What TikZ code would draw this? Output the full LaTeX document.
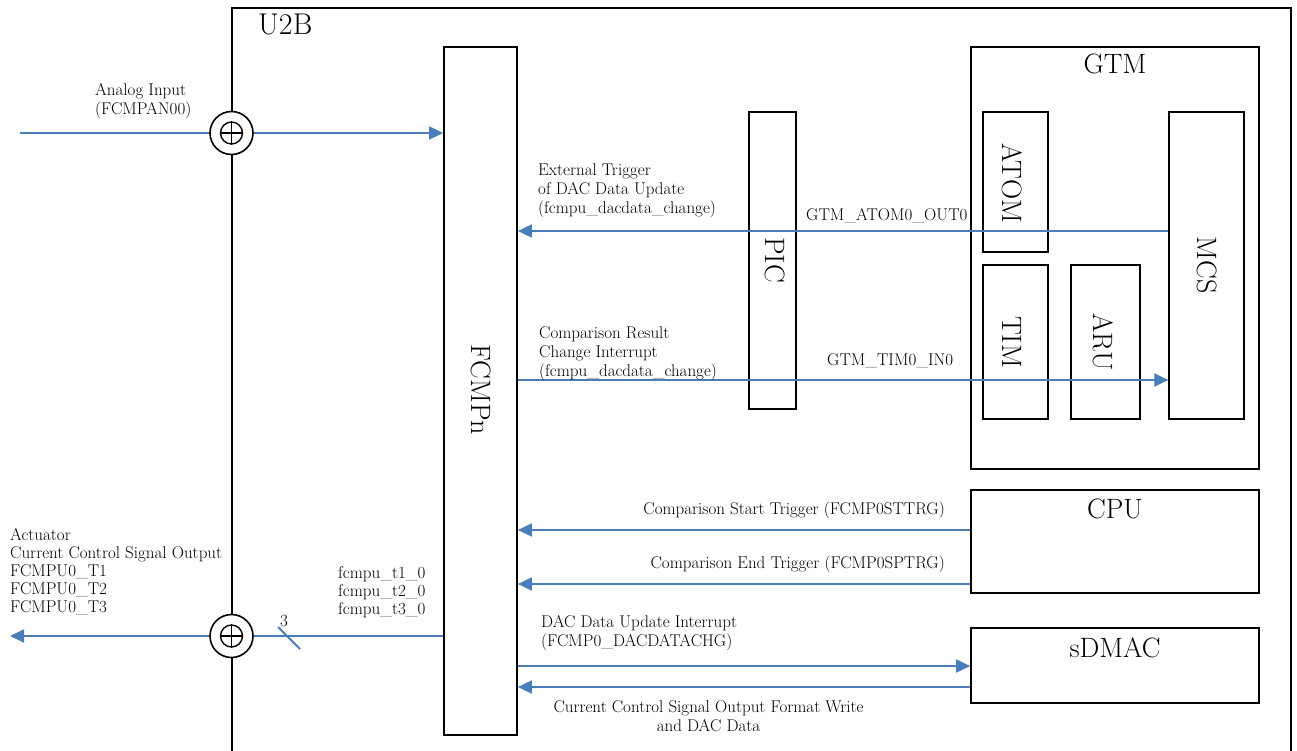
\documentclass[tikz,border=0pt]{standalone}
\usepackage{tikz}
\usetikzlibrary{arrows.meta,positioning}
\definecolor{sigblue}{RGB}{74,126,187}
\tikzset{% 
  blockbox/.style={%
    draw,
    line width=1.7pt,
    inner sep=0pt
  }
}
\tikzset{% 
  subbox/.style={%
    draw,
    line width=1.3pt,
    inner sep=0pt
  }
}
\tikzset{% 
  bigname/.style={%
    inner sep=0pt,
    font=\fontsize{28}{32}\selectfont
  }
}
\tikzset{% 
  siglabel/.style={%
    inner sep=0pt,
    align=left,
    font=\fontsize{17}{19}\selectfont
  }
}
\tikzset{% 
  sigline/.style={%
    draw=sigblue,
    line width=1.8pt
  }
}
\tikzset{% 
  sigarrow/.style={%
    sigline,
    -{Triangle[length=14pt,width=13pt]}
  }
}
\tikzset{% 
  pinring/.style={%
    circle,
    draw,
    fill=white,
    line width=1.6pt,
    minimum size=43pt,
    inner sep=0pt
  }
}
\tikzset{% 
  pinhole/.style={%
    circle,
    draw,
    line width=1.4pt,
    minimum size=22pt,
    inner sep=0pt
  }
}

\begin{document}
\begin{tikzpicture}[x=1pt,y=-1pt]
  \useasboundingbox (0,0) rectangle (1297,751);
  % U2B frame, open at the bottom
  \draw [line width=1.7pt] (232,760) -- (232,8) -- (1291,8) -- (1291,760);
  \node [bigname, anchor=base west, font=\fontsize{30}{34}\selectfont] (u2b) at (258,35) {U2B};
  % blocks
  \node [blockbox, minimum width=73, minimum height=688] (fcmp) at (480.5,391) {};
  \node [bigname, rotate=-90] (fcmpname) at (481,390) {FCMPn};
  \node [blockbox, minimum width=47, minimum height=297] (pic) at (772.5,260.5) {};
  \node [bigname, rotate=-90] (picname) at (775,260) {PIC};
  \node [blockbox, minimum width=288, minimum height=422] (gtm) at (1115,258) {};
  \node [bigname, anchor=base] (gtmname) at (1115,74) {GTM};
  \node [subbox, minimum width=65, minimum height=140] (atom) at (1015.5,182) {};
  \node [bigname, rotate=-90] (atomname) at (1012,183) {ATOM};
  \node [subbox, minimum width=65, minimum height=154] (tim) at (1015.5,342) {};
  \node [bigname, rotate=-90] (timname) at (1012,342) {TIM};
  \node [subbox, minimum width=69, minimum height=154] (aru) at (1105.5,342) {};
  \node [bigname, rotate=-90] (aruname) at (1103,342) {ARU};
  \node [subbox, minimum width=75, minimum height=307] (mcs) at (1206.5,265.5) {};
  \node [bigname, rotate=-90] (mcsname) at (1207,265) {MCS};
  \node [blockbox, minimum width=288, minimum height=103] (cpu) at (1115,541.5) {};
  \node [bigname, anchor=base] (cpuname) at (1115,518) {CPU};
  \node [blockbox, minimum width=288, minimum height=75] (sdmac) at (1115,665.5) {};
  \node [bigname, anchor=base] (sdmacname) at (1115,657) {sDMAC};
  % pins on the U2B edge
  \node [pinring] (pinin) at (231.5,133) {};
  \node [pinhole] (pininh) at (pinin) {};
  \draw [line width=1.2pt] (pininh.north) -- (pininh.south) (pininh.west) -- (pininh.east);
  \node [pinring] (pinout) at (231.5,636) {};
  \node [pinhole] (pinouth) at (pinout) {};
  \draw [line width=1.2pt] (pinouth.north) -- (pinouth.south) (pinouth.west) -- (pinouth.east);
  % signals
  \coordinate (ainstart) at (20,133);
  \coordinate (aoutend) at (10,636);
  \coordinate (busmark) at (289,638);
  \draw [sigline] (ainstart) -- (pinin.west);
  \draw [sigarrow] (pinin.east) -- (pinin -| fcmp.west);
  \draw [sigline] (pinout -| fcmp.west) -- (pinout.east);
  \draw [sigarrow] (pinout.west) -- (aoutend);
  \draw [sigline] ([shift={(-11,-11)}]busmark) -- ([shift={(11,11)}]busmark);
  \draw [sigarrow] (mcs.west |- 0,231) -- (fcmp.east |- 0,231);
  \draw [sigarrow] (fcmp.east |- 0,380) -- (mcs.west |- 0,380);
  \draw [sigarrow] (cpu.west |- 0,530) -- (fcmp.east |- 0,530);
  \draw [sigarrow] (cpu.west |- 0,584) -- (fcmp.east |- 0,584);
  \draw [sigarrow] (fcmp.east |- 0,666) -- (sdmac.west |- 0,666);
  \draw [sigarrow] (sdmac.west |- 0,687) -- (fcmp.east |- 0,687);
  % labels
  \node [siglabel, anchor=north west] (ainlbl) at (95,83) {Analog Input\\(FCMPAN00)};
  \node [siglabel, anchor=north west] (exttrg) at (538,164)
    {External Trigger\\of DAC Data Update\\(fcmpu\_dacdata\_change)};
  \node [siglabel, anchor=base west] (atomout) at (806,221) {GTM\_ATOM0\_OUT0};
  \node [siglabel, anchor=north west] (cmpres) at (539,326)
    {Comparison Result\\Change Interrupt\\(fcmpu\_dacdata\_change)};
  \node [siglabel, anchor=base west] (timin) at (827,365) {GTM\_TIM0\_IN0};
  \node [siglabel, anchor=base east] (starttrg) at (945,514) {Comparison Start Trigger (FCMP0STTRG)};
  \node [siglabel, anchor=base east] (endtrg) at (945,568) {Comparison End Trigger (FCMP0SPTRG)};
  \node [siglabel, anchor=north west] (dacupd) at (541,615)
    {DAC Data Update Interrupt\\(FCMP0\_DACDATACHG)};
  \node [siglabel, anchor=north, align=center] (ccsout) at (708.5,700)
    {Current Control Signal Output Format Write\\and DAC Data};
  \node [siglabel, anchor=north west, font=\fontsize{17}{18}\selectfont] (actuator) at (10,528)
    {Actuator\\Current Control Signal Output\\FCMPU0\_T1\\FCMPU0\_T2\\FCMPU0\_T3};
  \node [siglabel, anchor=north west, font=\fontsize{17}{18}\selectfont] (tsig) at (338,566)
    {fcmpu\_t1\_0\\fcmpu\_t2\_0\\fcmpu\_t3\_0};
  \node [siglabel, anchor=base] (buswidth) at (284,626) {3};
\end{tikzpicture}
\end{document}
